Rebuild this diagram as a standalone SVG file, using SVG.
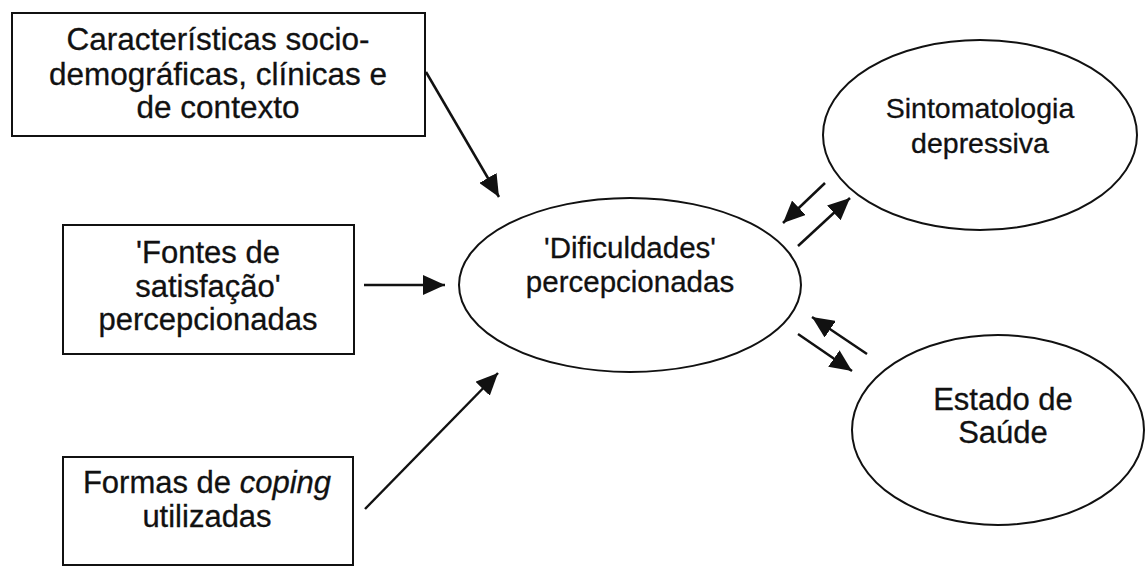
<svg xmlns="http://www.w3.org/2000/svg" width="1145" height="566" viewBox="0 0 1145 566">
<style>
.box{fill:#fff;stroke:#111;stroke-width:2}
.ell{fill:#fff;stroke:#111;stroke-width:2}
.t{font-family:"Liberation Sans",Arial,sans-serif;font-size:31px;fill:#111;text-anchor:middle;stroke:#111;stroke-width:0.3}
.c{stroke:#111;stroke-width:2.5;fill:none;marker-end:url(#ah)}
</style>
<defs>
<marker id="ah" markerUnits="userSpaceOnUse" markerWidth="24" markerHeight="20" refX="22" refY="10" orient="auto">
<path d="M0,0 L22,10 L0,20 Z" fill="#111"/>
</marker>
</defs>
<rect width="1145" height="566" fill="#fff"/>
<g id="node-caracteristicas">
<rect class="box" x="12" y="13" width="413" height="123"/>
<text class="t" x="218" y="50" style="font-size:31.5px">Características socio-</text>
<text class="t" x="218" y="85" style="font-size:31.5px">demográficas, clínicas e</text>
<text class="t" x="218" y="118" style="font-size:31.5px">de contexto</text>
</g>
<g id="node-fontes">
<rect class="box" x="63" y="225" width="291" height="129"/>
<text class="t" x="208" y="263">'Fontes de</text>
<text class="t" x="208" y="297">satisfação'</text>
<text class="t" x="208" y="330">percepcionadas</text>
</g>
<g id="node-coping">
<rect class="box" x="63" y="457" width="290" height="108"/>
<text class="t" x="207" y="493">Formas de <tspan font-style="italic">coping</tspan></text>
<text class="t" x="207" y="527">utilizadas</text>
</g>
<g id="node-dificuldades">
<ellipse class="ell" cx="630" cy="285" rx="171" ry="87"/>
<text class="t" x="630" y="258" style="font-size:29.5px">'Dificuldades'</text>
<text class="t" x="630" y="292" style="font-size:29.5px">percepcionadas</text>
</g>
<g id="node-sintomatologia">
<ellipse class="ell" cx="980" cy="135" rx="157" ry="95"/>
<text class="t" x="980" y="118" style="font-size:28.5px">Sintomatologia</text>
<text class="t" x="980" y="153" style="font-size:28.5px">depressiva</text>
</g>
<g id="node-estado">
<ellipse class="ell" cx="998" cy="430" rx="146" ry="95"/>
<text class="t" x="1003" y="410">Estado de</text>
<text class="t" x="1003" y="443">Saúde</text>
</g>
<g id="connectors">
<line class="c" x1="426" y1="72" x2="499" y2="197"/>
<line class="c" x1="364" y1="285" x2="445" y2="285"/>
<line class="c" x1="365" y1="509" x2="498" y2="373"/>
<line class="c" x1="825" y1="183" x2="783" y2="223"/>
<line class="c" x1="798" y1="246" x2="850" y2="198"/>
<line class="c" x1="867" y1="354" x2="812" y2="317"/>
<line class="c" x1="798" y1="334" x2="852" y2="371"/>
</g>
</svg>
